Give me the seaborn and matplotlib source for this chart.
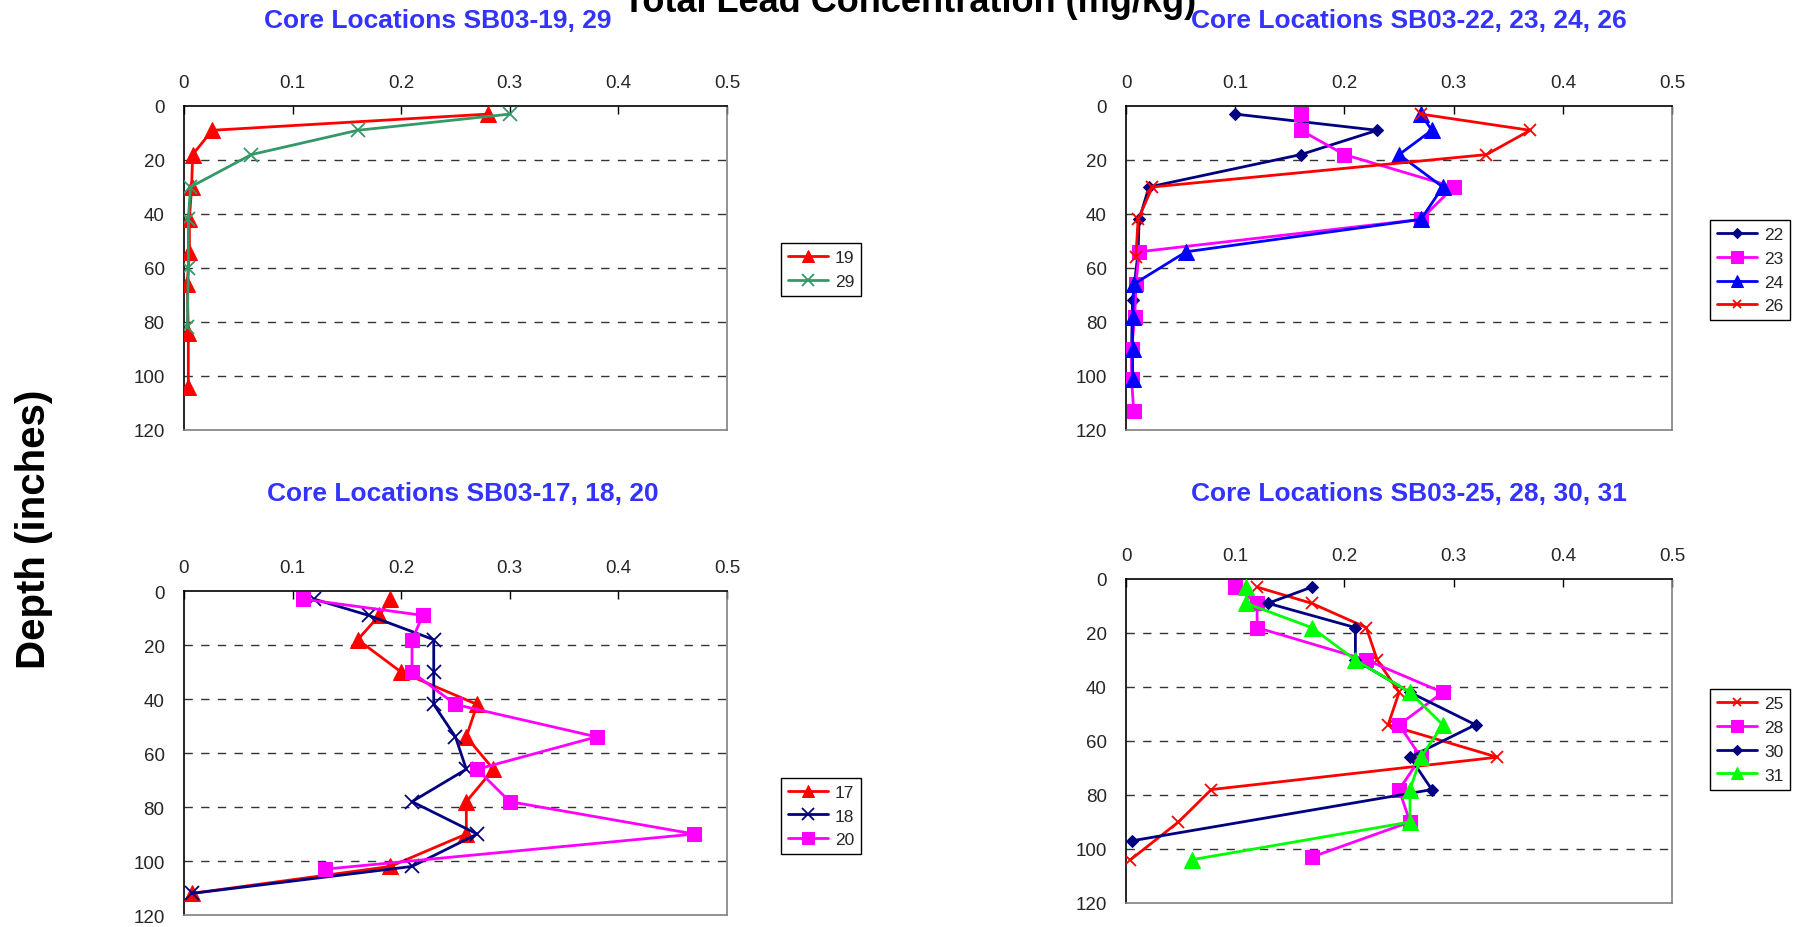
#!/usr/bin/env python3

import matplotlib
matplotlib.use('Agg')
import matplotlib.pyplot as plt
import seaborn as sns

# Output settings
OUTPUT_FILE = 'out.png'
FIG_W, FIG_H, DPI = 18.02, 9.28, 100

# Shared axis ticks
conc_ticks = [0, 0.1, 0.2, 0.3, 0.4, 0.5]
conc_tick_labels = ['0', '0.1', '0.2', '0.3', '0.4', '0.5']
depth_ticks = [0, 20, 40, 60, 80, 100, 120]

# Core SB03-19 and 29 (depth in inches, lead in mg/kg)
depth_19 = [3, 9, 18, 30, 42, 54, 66, 84, 104]
pb_19 = [0.28, 0.026, 0.008, 0.007, 0.005, 0.005, 0.003, 0.004, 0.004]
depth_29 = [3, 9, 18, 30, 42, 60, 82]
pb_29 = [0.30, 0.16, 0.062, 0.006, 0.004, 0.004, 0.003]

# Core SB03-22, 23, 24, 26
depth_22 = [3, 9, 18, 30, 42, 54, 72, 90, 101]
pb_22 = [0.10, 0.23, 0.16, 0.021, 0.012, 0.011, 0.006, 0.005, 0.006]
depth_23 = [3, 9, 18, 30, 42, 54, 66, 78, 90, 101, 113]
pb_23 = [0.16, 0.16, 0.20, 0.30, 0.27, 0.012, 0.009, 0.008, 0.005, 0.005, 0.007]
depth_24 = [3, 9, 18, 30, 42, 54, 66, 78, 90, 101]
pb_24 = [0.27, 0.28, 0.25, 0.29, 0.27, 0.055, 0.007, 0.006, 0.006, 0.006]
depth_26 = [3, 9, 18, 30, 42, 56]
pb_26 = [0.27, 0.37, 0.33, 0.024, 0.011, 0.009]

# Core SB03-17, 18, 20
depth_17 = [3, 9, 18, 30, 42, 54, 66, 78, 90, 102, 112]
pb_17 = [0.19, 0.18, 0.16, 0.20, 0.27, 0.26, 0.285, 0.26, 0.26, 0.19, 0.007]
depth_18 = [3, 9, 18, 30, 42, 54, 66, 78, 90, 102, 112]
pb_18 = [0.12, 0.17, 0.23, 0.23, 0.23, 0.25, 0.26, 0.21, 0.27, 0.21, 0.007]
depth_20 = [3, 9, 18, 30, 42, 54, 66, 78, 90, 103]
pb_20 = [0.11, 0.22, 0.21, 0.21, 0.25, 0.38, 0.27, 0.30, 0.47, 0.13]

# Core SB03-25, 28, 30, 31
depth_25 = [3, 9, 18, 30, 42, 54, 66, 78, 90, 104]
pb_25 = [0.12, 0.17, 0.22, 0.23, 0.25, 0.24, 0.34, 0.078, 0.048, 0.004]
depth_28 = [3, 9, 18, 30, 42, 54, 66, 78, 90, 103]
pb_28 = [0.10, 0.12, 0.12, 0.22, 0.29, 0.25, 0.27, 0.25, 0.26, 0.17]
depth_30 = [3, 9, 18, 30, 42, 54, 66, 78, 97]
pb_30 = [0.17, 0.13, 0.21, 0.21, 0.26, 0.32, 0.26, 0.28, 0.005]
depth_31 = [3, 9, 18, 30, 42, 54, 66, 78, 90, 104]
pb_31 = [0.11, 0.11, 0.17, 0.21, 0.26, 0.29, 0.27, 0.26, 0.26, 0.06]

# Excel-like series styles: (color, marker, size)
STYLES = {
    'tri_red': ('#ff0000', '^', 11),
    'x_green': ('#339966', 'x', 10),
    'dia_navy': ('#000080', 'D', 6.5),
    'sq_mag': ('#ff00ff', 's', 10),
    'tri_blue': ('#0000ff', '^', 11),
    'x_red': ('#ff0000', 'x', 8),
    'x_navy': ('#000080', 'x', 10),
    'tri_green': ('#00ff00', '^', 11),
}

# Panels: title, title position, axes rect, legend anchor, series
PANELS = [
    ('Core Locations SB03-19, 29', (0.243, 0.977), [0.1021, 0.5356, 0.3013, 0.3491], (0.4334, 0.737),
     [('19', pb_19, depth_19, 'tri_red'), ('29', pb_29, depth_29, 'x_green')]),
    ('Core Locations SB03-22, 23, 24, 26', (0.782, 0.977), [0.6249, 0.5356, 0.3030, 0.3491], (0.949, 0.762),
     [('22', pb_22, depth_22, 'dia_navy'), ('23', pb_23, depth_23, 'sq_mag'),
      ('24', pb_24, depth_24, 'tri_blue'), ('26', pb_26, depth_26, 'x_red')]),
    ('Core Locations SB03-17, 18, 20', (0.257, 0.468), [0.1021, 0.0129, 0.3013, 0.3491], (0.4334, 0.161),
     [('17', pb_17, depth_17, 'tri_red'), ('18', pb_18, depth_18, 'x_navy'),
      ('20', pb_20, depth_20, 'sq_mag')]),
    ('Core Locations SB03-25, 28, 30, 31', (0.782, 0.468), [0.6249, 0.0259, 0.3030, 0.3491], (0.949, 0.2565),
     [('25', pb_25, depth_25, 'x_red'), ('28', pb_28, depth_28, 'sq_mag'),
      ('30', pb_30, depth_30, 'dia_navy'), ('31', pb_31, depth_31, 'tri_green')]),
]


def style_axes(ax):
    """Excel-style depth profile axes: concentration on top, depth downwards"""
    ax.set_xlim(0, 0.5)
    ax.set_ylim(120, 0)
    ax.set_xticks(conc_ticks)
    ax.set_xticklabels(conc_tick_labels)
    ax.set_yticks(depth_ticks)
    ax.xaxis.tick_top()
    ax.tick_params(axis='x', direction='in', length=6, width=1, pad=11, labelsize=13.5, color='black')
    ax.tick_params(axis='y', direction='out', length=6, width=1, pad=8, labelsize=13.5, color='black')
    ax.set_xlabel('')
    ax.set_ylabel('')

    # dashed gridlines inside the plot only
    ax.hlines(depth_ticks[1:-1], 0, 0.5, colors='#333333', linestyles=(0, (6, 6)), linewidth=1, zorder=1)

    for side in ['left', 'top']:
        ax.spines[side].set_color('black')
        ax.spines[side].set_linewidth(1.2)
    for side in ['right', 'bottom']:
        ax.spines[side].set_color('#808080')
        ax.spines[side].set_linewidth(1.2)


def draw_panel(fig, title, title_pos, rect, legend_pos, series):
    ax = fig.add_axes(rect)
    for label, pb, depth, style in series:
        color, marker, size = STYLES[style]
        mew = 1.3 if marker == 'x' else 0.75
        sns.lineplot(x=pb, y=depth, ax=ax, sort=False, estimator=None, orient='y',
                     color=color, linewidth=2, marker=marker, markersize=size,
                     markeredgecolor=color, markerfacecolor=color, markeredgewidth=mew,
                     label=label, zorder=3)
    style_axes(ax)

    ax.legend(loc='upper left', bbox_to_anchor=legend_pos, bbox_transform=fig.transFigure,
              frameon=True, fancybox=False, edgecolor='black', framealpha=1,
              fontsize=12.5, handlelength=2.3, handletextpad=0.4, borderpad=0.4,
              labelspacing=0.5, borderaxespad=0, markerscale=0.8)
    ax.get_legend().get_frame().set_linewidth(1)

    fig.text(title_pos[0], title_pos[1], title, ha='center', va='center',
             fontsize=19, fontweight='bold', color='#3333ff')
    return ax


def main():
    sns.set_style('white')
    plt.rcParams['font.family'] = ['Liberation Sans', 'DejaVu Sans']

    fig = plt.figure(figsize=(FIG_W, FIG_H), dpi=DPI)

    for title, title_pos, rect, legend_pos, series in PANELS:
        draw_panel(fig, title, title_pos, rect, legend_pos, series)

    # Overall labels (main title is partly cut off at the top, as in the source)
    fig.text(0.505, 1 - 12 / 928, 'Total Lead Concentration (mg/kg)', ha='center', va='baseline',
             fontsize=26, fontweight='bold', color='black')
    fig.text(0.019, 0.43, 'Depth (inches)', ha='center', va='center', rotation=90,
             fontsize=29, fontweight='bold', color='black')

    fig.savefig(OUTPUT_FILE, dpi=DPI)
    plt.close(fig)


if __name__ == "__main__":
    main()
